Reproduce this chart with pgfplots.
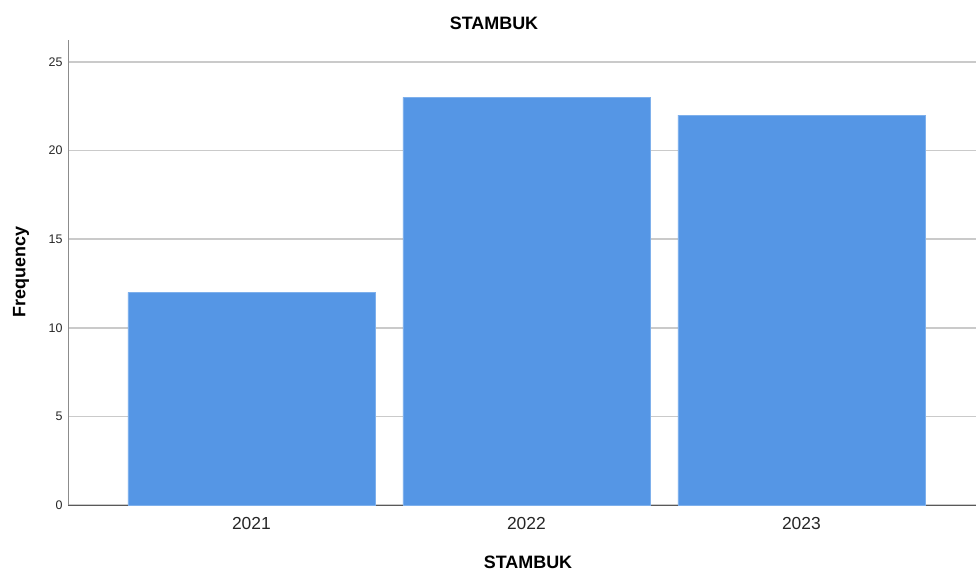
\documentclass[border=0pt]{standalone}
\usepackage{fontspec}
\setmainfont{Liberation Sans}
\usepackage{pgfplots}
\pgfplotsset{compat=1.18}
\definecolor{barblue}{HTML}{5596E5}
\definecolor{baredge}{HTML}{7EB0EC}
\definecolor{gridgray}{HTML}{CACACA}
\definecolor{axgray}{HTML}{8C8C8C}
\begin{document}
\begin{tikzpicture}
\useasboundingbox (0,0) rectangle (976bp,-577bp);
\begin{axis}[
  at={(68bp,-505bp)}, anchor=south west,
  scale only axis, width=908bp, height=465bp,
  xmin=-0.667, xmax=2.635, ymin=0, ymax=26.24,
  axis x line=bottom, axis y line=left,
  axis line style={-, axgray, line width=1bp},
  x axis line style={draw=black!65},
  xtick=data, xticklabels={2021,2022,2023},
  ytick={0,5,10,15,20,25},
  major tick length=0pt,
  ymajorgrids, grid style={gridgray, line width=1.5bp},
  xticklabel style={font=\fontsize{17.5}{19}\selectfont, text=black!85, yshift=-9bp},
  yticklabel style={font=\fontsize{12.5}{14}\selectfont, text=black!85, xshift=-2bp},
  /pgf/number format/assume math mode=true,
  ybar, bar width=247bp,
  clip=false,
]
\addplot[fill=barblue, draw=baredge, line width=0.6bp] coordinates {(0,12) (1,23) (2,22)};
\end{axis}
\node[font=\fontsize{18}{20}\selectfont\bfseries] at (494bp,-23bp) {STAMBUK};
\node[font=\fontsize{18}{20}\selectfont\bfseries] at (528bp,-562bp) {STAMBUK};
\node[font=\fontsize{18}{20}\selectfont\bfseries, rotate=90] at (21bp,-272bp) {Frequency};
\end{tikzpicture}
\end{document}
